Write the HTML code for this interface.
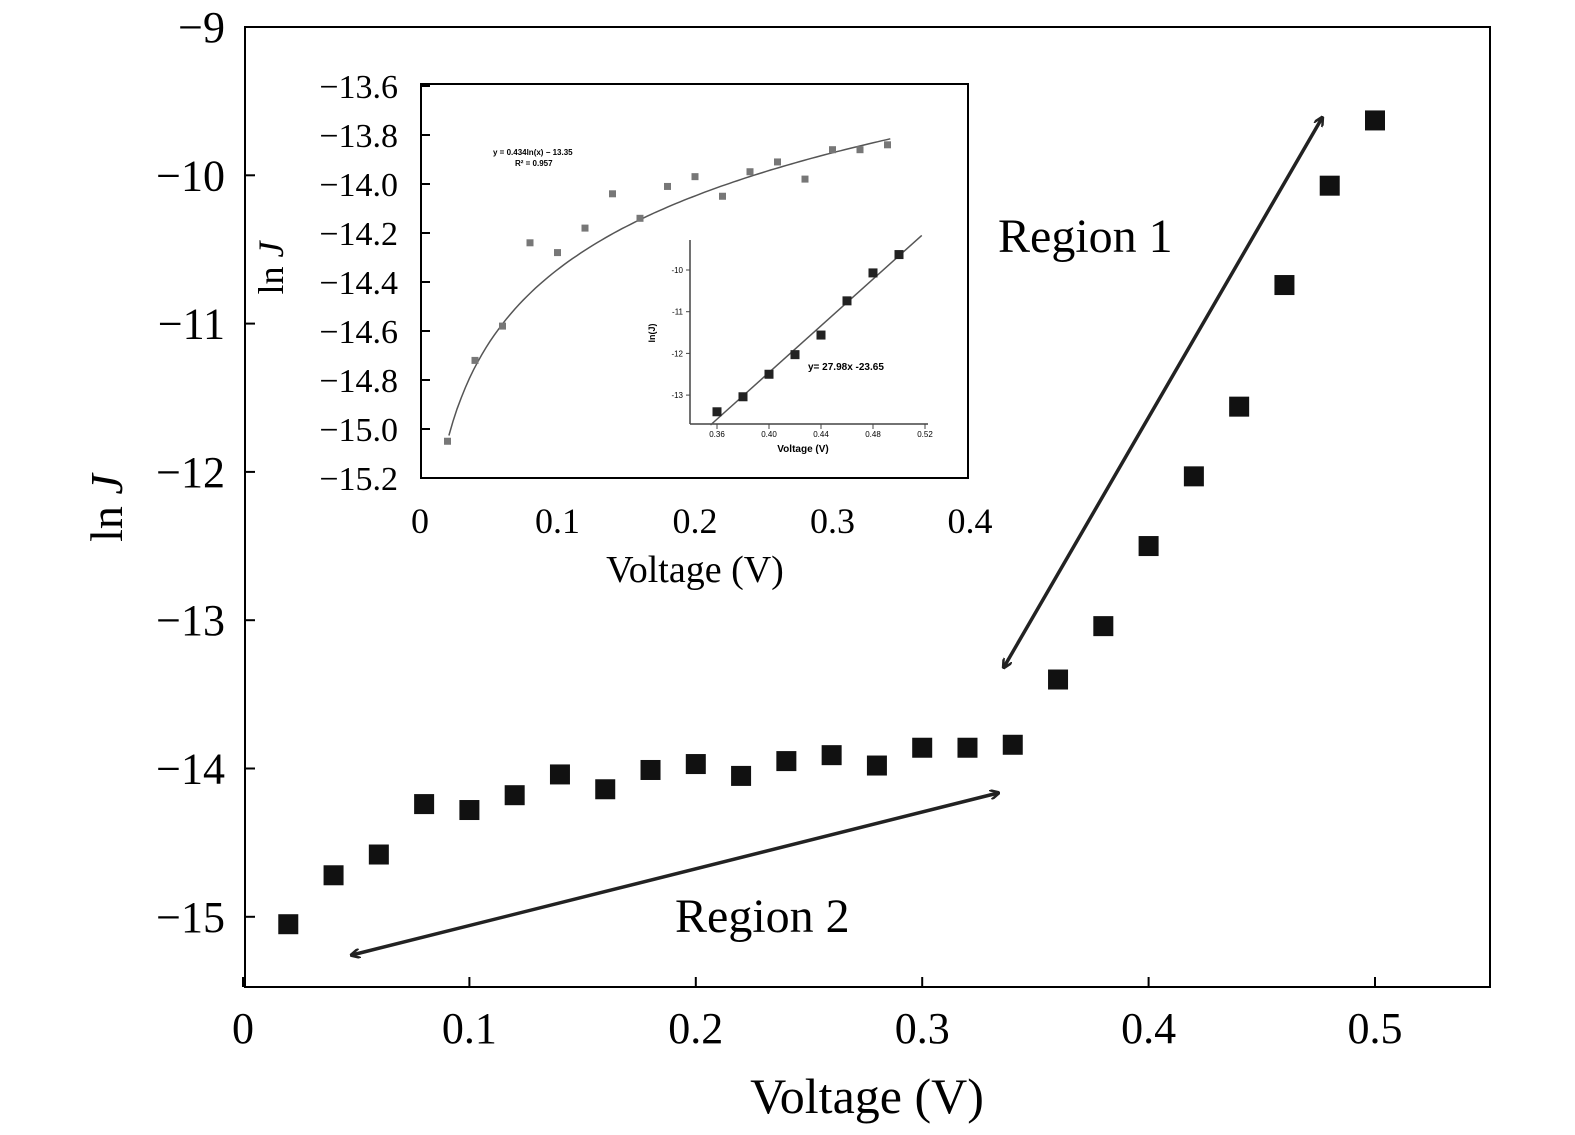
<!DOCTYPE html>
<html><head><meta charset="utf-8"><style>
body{margin:0;background:#fff;}
svg{display:block;font-family:"Liberation Serif",serif;}
.sans{font-family:"Liberation Sans",sans-serif;}
</style></head><body>
<svg id="c" width="1575" height="1135"></svg>
<script>
const voltages=[0.02,0.04,0.06,0.08,0.10,0.12,0.14,0.16,0.18,0.20,0.22,0.24,0.26,0.28,0.30,0.32,0.34,0.36,0.38,0.40,0.42,0.44,0.46,0.48,0.50];
const lnJ=[-15.05,-14.72,-14.58,-14.24,-14.28,-14.18,-14.04,-14.14,-14.01,-13.97,-14.05,-13.95,-13.91,-13.98,-13.86,-13.86,-13.84,-13.40,-13.04,-12.50,-12.03,-11.56,-10.74,-10.07,-9.63];
const xTicks=[0,0.1,0.2,0.3,0.4,0.5];
const yTicks=[-9,-10,-11,-12,-13,-14,-15];
const insetXTicks=[0,0.1,0.2,0.3,0.4];
const insetYTicks=[-13.6,-13.8,-14.0,-14.2,-14.4,-14.6,-14.8,-15.0,-15.2];
const inner2XTicks=[0.36,0.40,0.44,0.48,0.52];
const inner2YTicks=[-10,-11,-12,-13];
const logFit=[0.434,-13.35];
const linFit=[27.98,-23.65];

const NS="http://www.w3.org/2000/svg";
const svg=document.getElementById('c');
function el(t,a,p){const e=document.createElementNS(NS,t);for(const k in a)e.setAttribute(k,a[k]);(p||svg).appendChild(e);return e;}
function txt(s,a,p){const e=el('text',a,p);e.textContent=s;return e;}
const fmtM=(v,d)=>(v<0?'\u2212':'')+(d?Math.abs(v).toFixed(d):String(Math.abs(v)));

// main axes
const X=v=>243+v*2264, Y=v=>27+(-9-v)*148.3;
let r=el('rect',{x:245,y:27,width:1245,height:960,fill:'none',stroke:'#000','stroke-width':2});

xTicks.forEach(v=>{
  el('line',{x1:X(v),x2:X(v),y1:987,y2:977,stroke:'#000','stroke-width':2});
  const t=txt(v===0?'0':String(v),{x:X(v),y:1043,'font-size':44,'text-anchor':'middle'});
  
});
yTicks.forEach(v=>{
  el('line',{x1:245,x2:255,y1:Y(v),y2:Y(v),stroke:'#000','stroke-width':2});
  const t=txt(fmtM(v),{x:225,y:Y(v)+15,'font-size':44,'text-anchor':'end'});
  
});
let t=txt('Voltage (V)',{x:867,y:1113,'font-size':50,'text-anchor':'middle'});

t=el('text',{x:0,y:0,'font-size':46,'text-anchor':'middle',transform:'translate(122,508) rotate(-90)'});
t.innerHTML='ln <tspan font-style="italic">J</tspan>';

voltages.forEach((v,i)=>{
  const m=el('rect',{x:X(v)-10,y:Y(lnJ[i])-10,width:20,height:20,fill:'#111'});
  
});
// arrows
const defs=el('defs',{});
const mk=el('marker',{id:'ah',markerWidth:10,markerHeight:10,refX:8,refY:5,orient:'auto-start-reverse',markerUnits:'userSpaceOnUse'},defs);
el('path',{d:'M0,0 L10,5 L0,10',fill:'none',stroke:'#222','stroke-width':2.5},mk);
let a=el('line',{x1:1004,y1:667,x2:1322,y2:118,stroke:'#222','stroke-width':3.5,'marker-start':'url(#ah)','marker-end':'url(#ah)'});

a=el('line',{x1:352,y1:955,x2:998,y2:793,stroke:'#222','stroke-width':3.5,'marker-start':'url(#ah)','marker-end':'url(#ah)'});

t=txt('Region 1',{x:998,y:252,'font-size':48});
t=txt('Region 2',{x:675,y:932,'font-size':48});

// inset
const g=el('g',{});
const IX=v=>420+v*1375, IY=v=>86+(-13.6-v)*245;
el('rect',{x:421,y:84,width:547,height:394,fill:'#fff',stroke:'#000','stroke-width':2},g);
insetXTicks.forEach(v=>{
  const tt=txt(v===0?'0':String(v),{x:IX(v),y:533,'font-size':36,'text-anchor':'middle'},g);
  
});
insetYTicks.forEach(v=>{
  el('line',{x1:421,x2:430,y1:IY(v),y2:IY(v),stroke:'#000','stroke-width':2},g);
  const tt=txt(fmtM(v,1),{x:398,y:IY(v)+12,'font-size':34,'text-anchor':'end'},g);
  
});
t=txt('Voltage (V)',{x:695,y:582,'font-size':38,'text-anchor':'middle'},g);
t=el('text',{x:0,y:0,'font-size':36,'text-anchor':'middle',transform:'translate(283,268) rotate(-90)'},g);
t.innerHTML='ln <tspan font-style="italic">J</tspan>';
let d='';for(let v=0.021;v<=0.345;v+=0.003){const y=logFit[0]*Math.log(v)+logFit[1];d+=(d?'L':'M')+IX(v).toFixed(1)+','+IY(y).toFixed(1);}
el('path',{d,fill:'none',stroke:'#555','stroke-width':1.5},g);
voltages.forEach((v,i)=>{if(v>0.345)return;
  const m=el('rect',{x:IX(v)-3.5,y:IY(lnJ[i])-3.5,width:7,height:7,fill:'#777'},g);
  });
txt('y = 0.434ln(x) \u2212 13.35',{x:493,y:155,'font-size':8,'class':'sans','font-weight':'bold'},g);
txt('R\u00b2 = 0.957',{x:515,y:166,'font-size':8,'class':'sans','font-weight':'bold'},g);

// inner inset
const h=el('g',{});
const JX=v=>717+(v-0.36)*1300, JY=v=>270+(-10-v)*41.7;
el('line',{x1:690,x2:690,y1:240,y2:424,stroke:'#444','stroke-width':1.5},h);
el('line',{x1:690,x2:928,y1:424,y2:424,stroke:'#444','stroke-width':1.5},h);
inner2XTicks.forEach(v=>{el('line',{x1:JX(v),x2:JX(v),y1:424,y2:429,stroke:'#444'},h);
  txt(v.toFixed(2),{x:JX(v),y:437,'font-size':8,'text-anchor':'middle','class':'sans'},h);});
inner2YTicks.forEach(v=>{el('line',{x1:686,x2:690,y1:JY(v),y2:JY(v),stroke:'#444'},h);
  txt(String(v),{x:683,y:JY(v)+3,'font-size':8,'text-anchor':'end','class':'sans'},h);});
txt('Voltage (V)',{x:803,y:452,'font-size':10,'text-anchor':'middle','class':'sans','font-weight':'bold'},h);
txt('ln(J)',{x:0,y:0,'font-size':9,'text-anchor':'middle','class':'sans','font-weight':'bold',transform:'translate(655,333) rotate(-90)'},h);
el('line',{x1:JX(0.355),y1:JY(linFit[0]*0.355+linFit[1]),x2:JX(0.5175),y2:JY(linFit[0]*0.5175+linFit[1]),stroke:'#555','stroke-width':1.5},h);
voltages.forEach((v,i)=>{if(v<0.355)return;
  const m=el('rect',{x:JX(v)-4.5,y:JY(lnJ[i])-4.5,width:9,height:9,fill:'#222'},h);
  });
txt('y= 27.98x -23.65',{x:808,y:370,'font-size':10,'class':'sans','font-weight':'bold'},h);
</script>
</body></html>
